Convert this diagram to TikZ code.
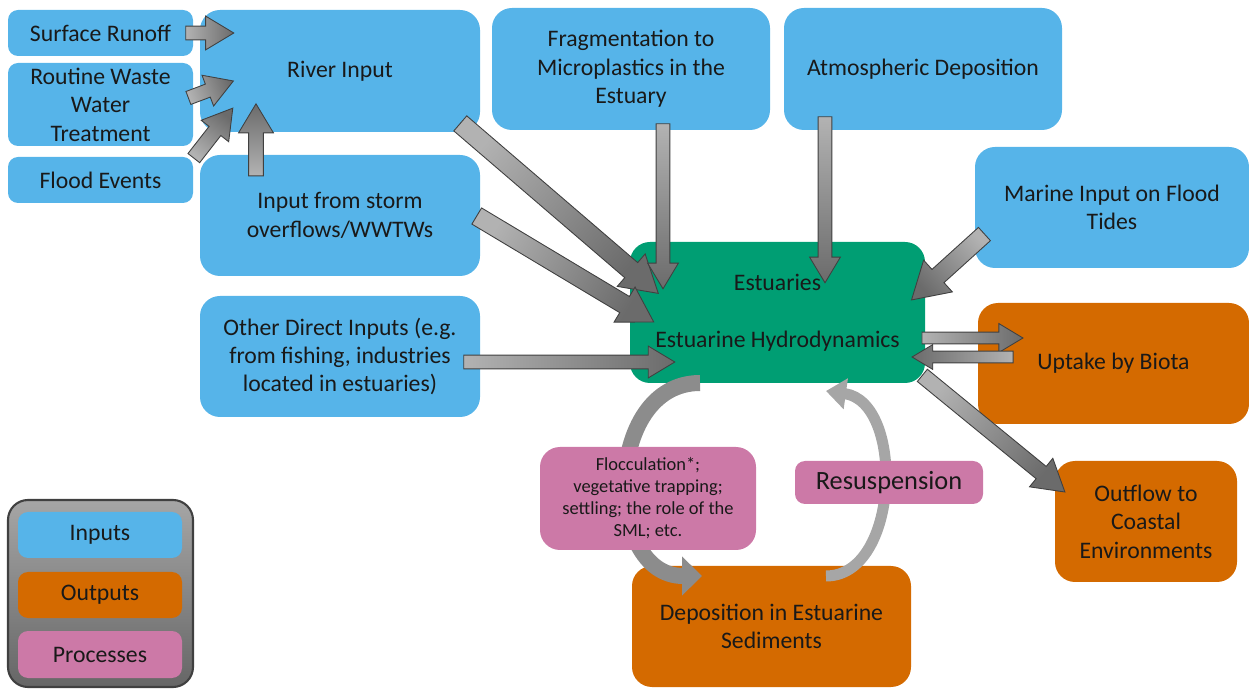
\documentclass[tikz,border=0pt]{standalone}
\usepackage{fontspec}
\setmainfont{Carlito}
\usetikzlibrary{shapes.arrows,arrows.meta,calc}

\definecolor{inblue}{HTML}{56B4E9}
\definecolor{outorange}{HTML}{D46A00}
\definecolor{procpink}{HTML}{CC79A7}
\definecolor{estgreen}{HTML}{009E73}

\tikzset{
  box/.style={rounded corners=0.4cm, align=center, text=black!90, inner sep=0pt,
    font=\fontsize{13.5}{16.2}\selectfont},
  inbox/.style={box, fill=inblue},
  outbox/.style={box, fill=outorange},
  procbox/.style={box, fill=procpink},
  small/.style={rounded corners=0.2cm},
  boxsize/.style 2 args={minimum width=#1*0.02cm, minimum height=#2*0.02cm},
  barrow/.style={single arrow, draw=black!75, line width=0.5pt, left color=black!30,
    right color=black!58, inner xsep=0pt, text height=0pt, text depth=0pt,
    outer sep=0pt, single arrow tip angle=62},
  asize/.style 2 args={inner ysep=#1*0.01cm, single arrow head extend=(#2-#1)*0.01cm},
  curvy/.style={line cap=butt}
}

% block arrow between two named points
\newcommand{\blockarrow}[3][]{%
  \path let \p1=($(#3)-(#2)$), \n1={veclen(\x1,\y1)}, \n2={atan2(\y1,\x1)} in
    node[barrow, #1, minimum height=\n1, rotate=\n2, shading angle=90+\n2]
      at ($(#2)!0.5!(#3)$) {};}

\begin{document}
\begin{tikzpicture}[x=0.02cm, y=-0.02cm]
  \useasboundingbox (0,0) rectangle (1249,689);

  % inputs
  \node[inbox, small, boxsize={185}{46}] (runoff) at (100.5,33) {Surface Runoff};
  \node[inbox, small, boxsize={185}{83}] (routine) at (100.5,104.5) {Routine Waste\\Water\\Treatment};
  \node[inbox, small, boxsize={185}{46}] (flood) at (100.5,180) {Flood Events};
  \node[inbox, boxsize={280}{122}] (river) at (340,71) {River Input};
  \node[inbox, boxsize={280}{121}] (storm) at (340,215.5) {Input from storm\\overflows/WWTWs};
  \node[inbox, boxsize={280}{121}] (other) at (340,356.5) {Other Direct Inputs (e.g.\\from fishing, industries\\located in estuaries)};
  \node[inbox, boxsize={278}{122}] (frag) at (631,69) {Fragmentation to\\Microplastics in the\\Estuary};
  \node[inbox, boxsize={278}{122}] (atmo) at (923,69) {Atmospheric Deposition};
  \node[inbox, boxsize={274}{121}] (marine) at (1112,207.5) {Marine Input on Flood\\Tides};

  % estuary
  \node[box, fill=estgreen, boxsize={295}{141}] (est) at (777.5,312.5) {Estuaries\\[16pt]Estuarine Hydrodynamics};

  % outputs
  \node[outbox, boxsize={271}{121}] (uptake) at (1113.5,363.5) {Uptake by Biota};
  \node[outbox, boxsize={182}{121}] (outflow) at (1146,521.5) {Outflow to\\Coastal\\Environments};
  \node[outbox, boxsize={279}{121}] (depo) at (771.5,626.5) {Deposition in Estuarine\\Sediments};

  % legend
  \node[box, top color=black!35, bottom color=black!60, draw=black!75, line width=1.2pt,
    boxsize={185}{187}] (legend) at (100.5,593.5) {};
  \node[inbox, small, boxsize={164}{46}] (legin) at (100,535) {Inputs};
  \node[outbox, small, boxsize={164}{46}] (legout) at (100,595) {Outputs};
  \node[procbox, small, boxsize={164}{47}] (legproc) at (100,654.5) {Processes};

  % arrow ends
  \coordinate (runoff-a) at (180,33);   \coordinate (runoff-b) at (228,33);
  \coordinate (routine-a) at (183,100); \coordinate (routine-b) at (228,83);
  \coordinate (flood-a) at (190,163);   \coordinate (flood-b) at (229,113);
  \coordinate (storm-u) at (256,182);   \coordinate (storm-v) at (256,110);
  \coordinate (river-a) at (454,118);   \coordinate (river-b) at (652,288);
  \coordinate (storm-a) at (470,212);   \coordinate (storm-b) at (647,318);
  \coordinate (other-a) at (458,362);   \coordinate (other-b) at (669,362);
  \coordinate (frag-a) at (663,118);    \coordinate (frag-b) at (663,283);
  \coordinate (atmo-a) at (825,111);    \coordinate (atmo-b) at (825,277);
  \coordinate (marine-a) at (990,229);  \coordinate (marine-b) at (917,295);
  \coordinate (up-a) at (917,338);      \coordinate (up-b) at (1018,338);
  \coordinate (back-a) at (1018,357);   \coordinate (back-b) at (917,357);
  \coordinate (out-a) at (917,371);     \coordinate (out-b) at (1060,488);

  \blockarrow[asize={13}{33}]{runoff-a}{runoff-b}
  \blockarrow[asize={13}{32}]{routine-a}{routine-b}
  \blockarrow[asize={14}{34}]{flood-a}{flood-b}
  \blockarrow[asize={14}{34}]{storm-u}{storm-v}
  \blockarrow[asize={19}{42}]{river-a}{river-b}
  \blockarrow[asize={18}{40}]{storm-a}{storm-b}
  \blockarrow[asize={13}{31}]{other-a}{other-b}
  \blockarrow[asize={13}{30}]{frag-a}{frag-b}
  \blockarrow[asize={13}{30}]{atmo-a}{atmo-b}
  \blockarrow[asize={17}{42}]{marine-a}{marine-b}
  \blockarrow[asize={11}{28}]{up-a}{up-b}
  \blockarrow[asize={11}{24}]{back-a}{back-b}
  \blockarrow[asize={15}{36}]{out-a}{out-b}

  % settling and resuspension loops
  \coordinate (settle-a) at (700,383);  \coordinate (settle-b) at (702,576);
  \coordinate (resus-a) at (826,576);   \coordinate (resus-b) at (826,391);
  \draw[curvy, draw=black!45, line width=0.32cm, -{Triangle[width=0.76cm, length=0.4cm]}]
    (settle-a) .. controls (603,383) and (603,576) .. (settle-b);
  \draw[curvy, draw=black!35, line width=0.22cm, -{Triangle[width=0.6cm, length=0.4cm]}]
    (resus-a) .. controls (900,576) and (905,402) .. (resus-b);

  % processes
  \node[procbox, boxsize={216}{103}, font=\fontsize{10.5}{12.5}\selectfont] (floc) at (648,498.5)
    {Flocculation*;\\vegetative trapping;\\settling; the role of the\\SML; etc.};
  \node[procbox, small, boxsize={188}{43}, font=\fontsize{15}{18}\selectfont] (resus) at (889,482.5) {Resuspension};
\end{tikzpicture}
\end{document}
